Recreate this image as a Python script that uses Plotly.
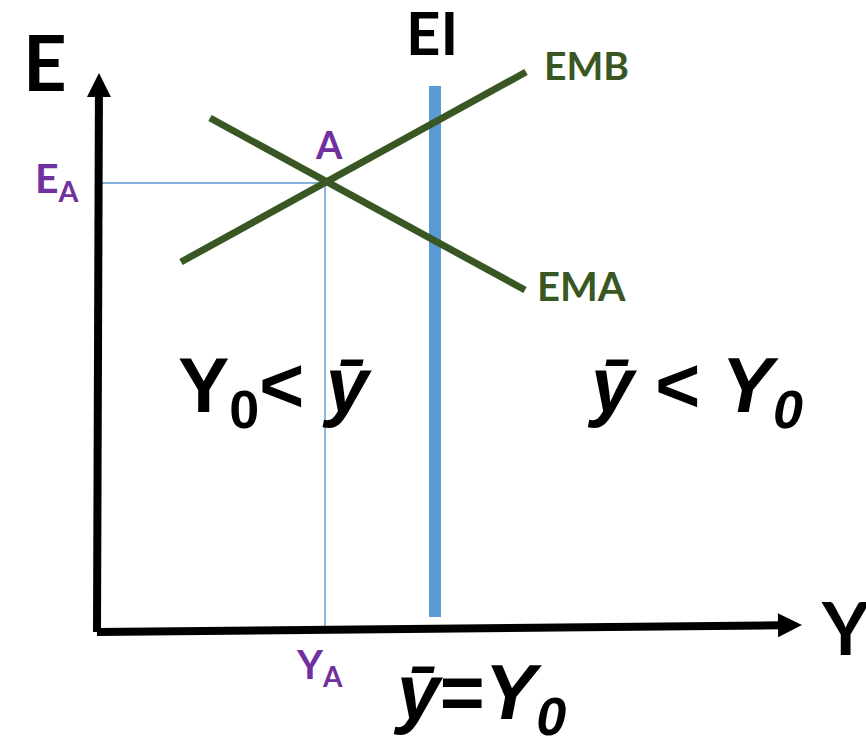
import numpy as np
import plotly.graph_objects as go

# Diagram units: 1 unit = 1 px, origin at the corner of the axes
x_axis_tip = (705, 7)
y_axis_tip = (2, 559)

# Aggregate demand curves
emb_x = [84, 429]
emb_y = [370, 560]
ema_x = [113, 428]
ema_y = [514, 342]

# Vertical EI schedule
ei_x = [338, 338]
ei_y = [15, 546]

# Equilibrium point A
point_a = (228, 449)

GREEN = "#385723"
BLUE = "#5b9bd5"
PURPLE = "#7030a0"
LABEL_FONT = "Lato"
MATH_FONT = "Liberation Sans"

fig = go.Figure()


def add_line(xs, ys, color, width):
    fig.add_trace(go.Scatter(x=xs, y=ys, mode="lines",
                             line=dict(color=color, width=width),
                             hoverinfo="skip", showlegend=False))


def add_arrow(tip, length=24, half_width=12, color="black", width=8):
    tip = np.array(tip, dtype=float)
    d = tip / np.linalg.norm(tip)
    n = np.array([-d[1], d[0]])
    base = tip - length * d
    add_line([0, base[0] + d[0] * 2], [0, base[1] + d[1] * 2], color, width)
    pts = [base + half_width * n, tip, base - half_width * n, base + half_width * n]
    fig.add_trace(go.Scatter(x=[p[0] for p in pts], y=[p[1] for p in pts],
                             mode="lines", fill="toself", fillcolor=color,
                             line=dict(color=color, width=0),
                             hoverinfo="skip", showlegend=False))


# Thin guide lines from A to the axes
add_line([2, point_a[0]], [point_a[1], point_a[1]], BLUE, 1.4)
add_line([point_a[0], point_a[0]], [point_a[1], 3], BLUE, 1.4)

# EI and the two curves
add_line(ei_x, ei_y, BLUE, 12)
add_line(emb_x, emb_y, GREEN, 7)
add_line(ema_x, ema_y, GREEN, 7)

# Axes with arrowheads
add_arrow(y_axis_tip)
add_arrow(x_axis_tip)

labels = [
    ("E", -52, 571, LABEL_FONT, 76, "black"),
    ("EI", 335, 600, LABEL_FONT, 60, "black"),
    ("EMB", 489, 567, LABEL_FONT, 39, GREEN),
    ("EMA", 484, 346, LABEL_FONT, 40, GREEN),
    ("A", 232, 488, LABEL_FONT, 38, PURPLE),
    ("E<sub>A</sub>", -39.5, 452, LABEL_FONT, 41, PURPLE),
    ("Y<sub>A</sub>", 222.5, -34, LABEL_FONT, 40, PURPLE),
    ("Y", 748, 5.5, LABEL_FONT, 73, "black"),
    ("<b>Y<sub>0</sub>&lt; <i>ȳ</i></b>", 178.5, 242, MATH_FONT, 77, "black"),
    ("<b><i>ȳ</i> &lt; <i>Y<sub>0</sub></i></b>", 598, 242, MATH_FONT, 77, "black"),
    ("<b><i>ȳ</i>=<i>Y<sub>0</sub></i></b>", 382, -65, MATH_FONT, 77, "black"),
]

for text, x, y, family, size, color in labels:
    if family == LABEL_FONT:
        text = "<b>" + text + "</b>"
    fig.add_annotation(x=x, y=y, xref="x", yref="y", text=text,
                       showarrow=False, xanchor="center", yanchor="middle",
                       font=dict(family=family, size=size, color=color))

fig.update_layout(
    width=866, height=736,
    margin=dict(l=0, r=0, t=0, b=0),
    paper_bgcolor="white", plot_bgcolor="white",
    showlegend=False,
    xaxis=dict(range=[-97, 769], visible=False, fixedrange=True),
    yaxis=dict(range=[-104, 632], visible=False, fixedrange=True),
)

fig.write_html("out.html")
